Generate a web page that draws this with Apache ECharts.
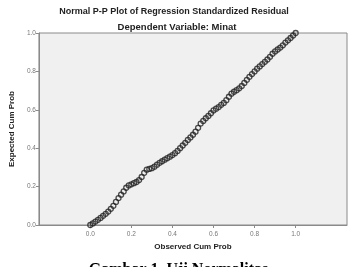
<!DOCTYPE html>
<html>
<head>
<meta charset="utf-8">
<script src="https://cdn.jsdelivr.net/npm/echarts@6/dist/echarts.min.js"></script>
<style>
  html, body { margin: 0; padding: 0; background: #fff; }
  #chart { width: 357px; height: 267px; }
</style>
</head>
<body>
<div id="chart"></div>
<script>
// observed vs expected cumulative probability
var observed = [
    0.0000, 0.0125, 0.0250, 0.0375, 0.0500, 0.0625, 0.0750, 0.0875, 0.1000, 0.1125,
    0.1250, 0.1375, 0.1500, 0.1625, 0.1750, 0.1875, 0.2000, 0.2125, 0.2250, 0.2375,
    0.2500, 0.2625, 0.2750, 0.2875, 0.3000, 0.3125, 0.3250, 0.3375, 0.3500, 0.3625,
    0.3750, 0.3875, 0.4000, 0.4125, 0.4250, 0.4375, 0.4500, 0.4625, 0.4750, 0.4875,
    0.5000, 0.5125, 0.5250, 0.5375, 0.5500, 0.5625, 0.5750, 0.5875, 0.6000, 0.6125,
    0.6250, 0.6375, 0.6500, 0.6625, 0.6750, 0.6875, 0.7000, 0.7125, 0.7250, 0.7375,
    0.7500, 0.7625, 0.7750, 0.7875, 0.8000, 0.8125, 0.8250, 0.8375, 0.8500, 0.8625,
    0.8750, 0.8875, 0.9000, 0.9125, 0.9250, 0.9375, 0.9500, 0.9625, 0.9750, 0.9875,
    1.0000
];
var expected = [
    0.000, 0.008, 0.018, 0.027, 0.037, 0.048, 0.058, 0.070, 0.084, 0.100,
    0.120, 0.140, 0.158, 0.175, 0.194, 0.206, 0.212, 0.218, 0.224, 0.234,
    0.250, 0.272, 0.288, 0.292, 0.296, 0.304, 0.314, 0.324, 0.332, 0.340,
    0.348, 0.356, 0.364, 0.374, 0.386, 0.400, 0.414, 0.428, 0.443, 0.456,
    0.470, 0.486, 0.506, 0.528, 0.542, 0.556, 0.568, 0.582, 0.597, 0.606,
    0.614, 0.626, 0.636, 0.650, 0.668, 0.684, 0.694, 0.702, 0.712, 0.724,
    0.740, 0.756, 0.772, 0.786, 0.800, 0.814, 0.826, 0.838, 0.850, 0.862,
    0.876, 0.892, 0.904, 0.914, 0.924, 0.936, 0.950, 0.962, 0.974, 0.987,
    1.000
];
var tickValues = [0, 0.2, 0.4, 0.6, 0.8, 1.0];

var points = observed.map(function (x, i) { return [x, expected[i]]; });

var chart = echarts.init(document.getElementById('chart'));
var font = 'Liberation Sans, Arial, sans-serif';

var option = {
    animation: false,
    backgroundColor: '#fff',
    title: [
        {
            text: 'Normal P-P Plot of Regression Standardized Residual',
            left: 174, top: 7, textAlign: 'center', padding: 0,
            textStyle: { fontFamily: font, fontSize: 9, fontWeight: 'bold', color: '#222' }
        },
        {
            text: 'Dependent Variable: Minat',
            left: 177, top: 22, textAlign: 'center', padding: 0,
            textStyle: { fontFamily: font, fontSize: 9.5, fontWeight: 'bold', color: '#222' }
        }
    ],
    grid: {
        left: 31, right: 10, top: 33, bottom: 42,
        show: true, backgroundColor: '#f0f0f0', borderColor: '#8a8a8a', borderWidth: 1
    },
    xAxis: {
        type: 'value', min: -0.25, max: 1.25,
        name: 'Observed Cum Prob', nameLocation: 'middle', nameGap: 15,
        nameTextStyle: { fontFamily: font, fontSize: 8, fontWeight: 'bold', color: '#222' },
        splitLine: { show: false },
        axisLine: { onZero: false, lineStyle: { color: '#8a8a8a' } },
        axisTick: { customValues: tickValues, length: 3, lineStyle: { color: '#8a8a8a' } },
        axisLabel: {
            customValues: tickValues, margin: 6,
            fontFamily: font, fontSize: 6.5, color: '#777',
            formatter: function (v) { return v.toFixed(1); }
        }
    },
    yAxis: {
        type: 'value', min: 0, max: 1, interval: 0.2,
        name: 'Expected Cum Prob', nameLocation: 'middle', nameGap: 18,
        nameTextStyle: { fontFamily: font, fontSize: 8, fontWeight: 'bold', color: '#222' },
        splitLine: { show: false },
        axisLine: { show: true, onZero: false, lineStyle: { color: '#8a8a8a' } },
        axisTick: { show: true, length: 3, lineStyle: { color: '#8a8a8a' } },
        axisLabel: {
            margin: 3, fontFamily: font, fontSize: 6.5, color: '#777',
            formatter: function (v) { return v.toFixed(1); }
        }
    },
    graphic: [
        {
            type: 'text', left: 'center', top: 262,
            style: {
                text: 'Gambar 1. Uji Normalitas',
                font: 'bold 16px "Liberation Serif", "Times New Roman", serif',
                fill: '#000'
            }
        }
    ],
    series: [
        {
            type: 'scatter',
            data: points,
            symbol: 'circle',
            symbolSize: 5,
            itemStyle: { color: 'rgba(255,255,255,0)', borderColor: '#222', borderWidth: 1.3 }
        }
    ]
};

chart.setOption(option);
</script>
</body>
</html>
